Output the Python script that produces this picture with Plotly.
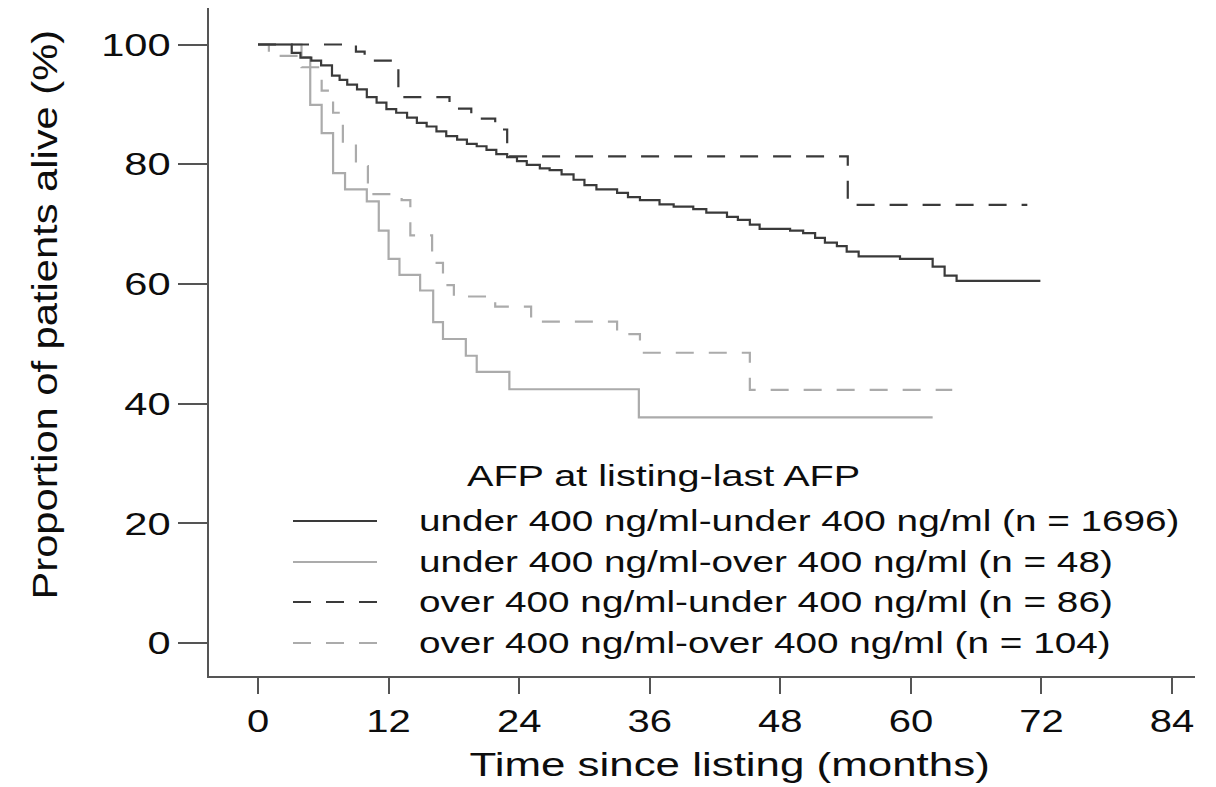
import json
import plotly.graph_objects as go

# Kaplan-Meier step estimates (months since listing, % alive) per AFP group
uu_time = [0, 3.1, 3.9, 4.9, 5.8, 6.8, 7.5, 8.2, 9.1, 10.0, 10.9, 11.8, 12.7, 13.7, 14.6,
           15.5, 16.4, 17.3, 18.3, 19.2, 20.1, 21.0, 21.9, 22.9, 23.8, 24.7, 25.9, 26.8,
           27.9, 29.0, 30.0, 31.1, 33.0, 34.0, 35.1, 36.9, 38.2, 40.0, 41.2, 43.1, 44.1,
           45.2, 46.1, 48.9, 50.1, 51.2, 52.1, 53.2, 54.1, 55.2, 59.0, 62.0, 63.1, 64.2, 71.9]
uu_surv = [100, 98.6, 97.8, 97.3, 96.5, 94.8, 94.1, 93.3, 92.5, 91.2, 90.3, 89.2, 88.6, 87.8,
           86.9, 86.3, 85.5, 84.7, 84.1, 83.4, 83.0, 82.4, 81.7, 81.2, 80.5, 79.9, 79.3, 79.0,
           78.3, 77.4, 76.5, 75.8, 75.2, 74.5, 74.0, 73.3, 72.9, 72.5, 71.9, 71.2, 70.7,
           69.9, 69.2, 68.9, 68.5, 67.7, 66.9, 66.3, 65.4, 64.6, 64.2, 62.9, 61.4, 60.5, 60.5]

uo_time = [0, 4.0, 4.8, 5.85, 6.9, 8.0, 10.0, 11.1, 12.0, 13.0, 14.9, 16.1, 17.0, 19.1,
           20.1, 23.1, 35.0, 62.0]
uo_surv = [100, 97.9, 89.9, 85.2, 78.5, 75.8, 73.8, 68.9, 64.2, 61.5, 58.9, 53.6, 50.8, 48.0,
           45.3, 42.4, 37.7, 37.7]

ou_time = [0, 9.0, 9.8, 12.9, 17.6, 19.6, 21.8, 22.9, 54.2, 70.7]
ou_surv = [100, 98.8, 97.3, 91.2, 89.3, 87.6, 85.8, 81.3, 73.2, 73.2]

oo_time = [0, 1.0, 4.0, 5.85, 6.9, 7.8, 9.0, 10.1, 13.2, 14.0, 16.0, 17.0, 18.0, 21.8,
           25.1, 33.0, 35.1, 45.2, 63.8]
oo_surv = [100, 98.1, 96.2, 92.3, 88.6, 83.3, 79.7, 75.0, 74.0, 68.1, 63.5, 59.8, 57.9, 56.2,
           53.7, 51.6, 48.5, 42.3, 42.3]

group_labels = [
    "under 400 ng/ml-under 400 ng/ml (n = 1696)",
    "under 400 ng/ml-over 400 ng/ml (n = 48)",
    "over 400 ng/ml-under 400 ng/ml (n = 86)",
    "over 400 ng/ml-over 400 ng/ml (n = 104)",
]
legend_title = "AFP at listing-last AFP"
x_ticks = [0, 12, 24, 36, 48, 60, 72, 84]
y_ticks = [0, 20, 40, 60, 80, 100]

DARK = "#3a3a3a"
LIGHT = "#ababab"
DASH = "18px,15px"
styles = [
    dict(color=DARK, dash="solid"),
    dict(color=LIGHT, dash="solid"),
    dict(color=DARK, dash=DASH),
    dict(color=LIGHT, dash=DASH),
]
series = [(uu_time, uu_surv), (uo_time, uo_surv), (ou_time, ou_surv), (oo_time, oo_surv)]

FONT = "Liberation Sans, Arial, sans-serif"
TEXT = "#0d0d0d"
W, H = 1216, 787
L, R, T, B = 209, 21, 8, 111
PW, PH = W - L - R, H - T - B


def px_x(px):
    return (px - L) / PW


def px_y(py):
    return (H - B - py) / PH


fig = go.Figure()
# draw light curves first so the dark ones sit on top
for i in [1, 3, 0, 2]:
    t, s = series[i]
    fig.add_trace(go.Scatter(
        x=t, y=s, mode="lines", line_shape="hv", name=group_labels[i],
        line=dict(color=styles[i]["color"], dash=styles[i]["dash"], width=2.2),
        hoverinfo="skip", showlegend=False,
    ))

# hand-built legend block inside the plot
legend_rows_y = [521, 562, 602, 643]
shapes = []
annotations = []
for i, py in enumerate(legend_rows_y):
    shapes.append(dict(
        type="line", xref="paper", yref="paper",
        x0=px_x(293), x1=px_x(377), y0=px_y(py), y1=px_y(py),
        line=dict(color=styles[i]["color"], dash=styles[i]["dash"], width=2.2),
    ))
    annotations.append(dict(
        xref="paper", yref="paper", x=px_x(417), y=px_y(py - 0.5),
        xanchor="left", yanchor="middle", align="left", showarrow=False,
        text=group_labels[i], font=dict(family=FONT, size=30, color=TEXT),
    ))
annotations.append(dict(
    xref="paper", yref="paper", x=px_x(465), y=px_y(475),
    xanchor="left", yanchor="middle", align="left", showarrow=False,
    text=legend_title, font=dict(family=FONT, size=30, color=TEXT),
))
# axis titles
annotations.append(dict(
    xref="paper", yref="paper", x=px_x(44), y=px_y(315),
    xanchor="center", yanchor="middle", showarrow=False, textangle=-90,
    text="Proportion of patients alive (%)", font=dict(family=FONT, size=35, color=TEXT),
))
annotations.append(dict(
    xref="paper", yref="paper", x=px_x(729), y=px_y(765),
    xanchor="center", yanchor="middle", showarrow=False,
    text="Time since listing (months)", font=dict(family=FONT, size=33, color=TEXT),
))

axis_common = dict(
    showgrid=False, zeroline=False, showline=True, linecolor="#555555", linewidth=2,
    ticks="outside", tickcolor="#555555", tickwidth=2, mirror=False,
    tickfont=dict(family=FONT, size=32, color=TEXT),
)
fig.update_layout(
    width=W, height=H,
    margin=dict(l=L, r=R, t=T, b=B, pad=0),
    paper_bgcolor="white", plot_bgcolor="white",
    showlegend=False,
    xaxis=dict(range=[-4.503, 86.11], tickvals=x_ticks, ticklen=16,
               ticklabelstandoff=0, **axis_common),
    yaxis=dict(range=[-5.51, 106.1], tickvals=y_ticks, ticklen=29,
               ticklabelstandoff=1, **axis_common),
    shapes=shapes,
    annotations=annotations,
)

# widen glyphs along the baseline (wide-set lettering)
stretch = {
    "Proportion of patients alive (%)": 1.19,
    "Time since listing (months)": 1.33,
    legend_title: 1.32,
}
for lab in group_labels:
    stretch[lab] = 1.29
post_js = """
var gd = document.getElementById('{plot_id}');
var table = %s;
function widen(el, k) {
  var w = el.getComputedTextLength();
  if (w > 0) {
    el.setAttribute('textLength', (w * k).toFixed(1));
    el.setAttribute('lengthAdjust', 'spacingAndGlyphs');
  }
}
gd.querySelectorAll('.xtick text').forEach(function (el) { widen(el, 1.25); });
gd.querySelectorAll('.ytick text').forEach(function (el) { widen(el, 1.3); });
gd.querySelectorAll('text.annotation-text').forEach(function (el) {
  var k = table[el.textContent];
  if (k) { widen(el, k); }
});
""" % json.dumps(stretch)

fig.write_html("out.html", post_script=post_js)
